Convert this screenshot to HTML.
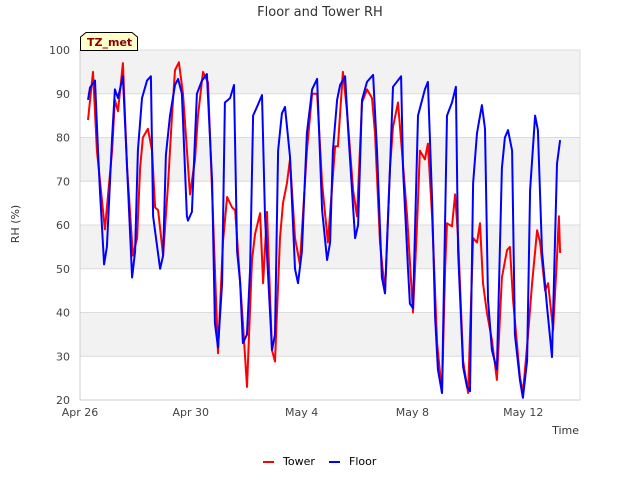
<!DOCTYPE html>
<html><head><meta charset="utf-8"><style>
body{margin:0;background:#fff;}
svg{display:block;font-family:"DejaVu Sans","Liberation Sans",sans-serif;}
</style></head><body>
<svg id="chart" width="640" height="480">
<g id="bands"></g>
<g id="grid"></g>
<g id="yticks"></g>
<g id="xticks"></g>
<g id="series"></g>
<text x="320" y="16" text-anchor="middle" font-size="13" fill="#333">Floor and Tower RH</text>
<text transform="translate(19,224) rotate(-90)" text-anchor="middle" font-size="11" fill="#333">RH (%)</text>
<text x="579" y="434" text-anchor="end" font-size="11" fill="#333">Time</text>
<g>
<path d="M80.5,50.5 L80.5,37 L86,32.5 L132,32.5 L137.5,37 L137.5,50.5 Z" fill="#ffffcc" stroke="#000" stroke-width="1"/>
<text x="87" y="46" font-size="11" font-weight="bold" fill="#8b0000">TZ_met</text>
</g>
<g>
<g><line x1="263" y1="462" x2="274" y2="462" stroke="#f00" stroke-width="2"/><text x="283" y="465" font-size="11" fill="#000">Tower</text></g>
<g><line x1="329" y1="462" x2="340" y2="462" stroke="#00f" stroke-width="2"/><text x="349" y="465" font-size="11" fill="#000">Floor</text></g>
</g>
</svg>
<script>
// days since Apr 26 00:00
const floorDays=[0.29,0.36,0.54,0.65,0.72,0.87,0.97,1.16,1.26,1.37,1.55,1.70,1.88,1.99,2.09,2.24,2.42,2.56,2.64,2.89,3.00,3.10,3.25,3.43,3.54,3.68,3.86,3.90,4.04,4.22,4.40,4.58,4.77,4.87,4.98,5.13,5.23,5.42,5.56,5.67,5.78,5.88,6.03,6.14,6.25,6.39,6.57,6.68,6.93,7.04,7.15,7.29,7.40,7.58,7.76,7.87,8.01,8.19,8.38,8.56,8.74,8.92,9.03,9.13,9.28,9.39,9.57,9.68,9.86,9.93,10.04,10.18,10.36,10.58,10.72,10.90,11.01,11.19,11.30,11.59,11.66,11.84,11.91,12.02,12.20,12.45,12.56,12.71,12.82,12.92,13.07,13.25,13.43,13.57,13.65,13.83,13.97,14.08,14.19,14.33,14.51,14.62,14.73,14.87,15.05,15.23,15.34,15.45,15.60,15.70,15.88,15.99,16.14,16.25,16.43,16.53,16.68,16.86,17.04,17.22,17.33];
const floorRH=[88.6,91.4,93,77,68,51,55,80,91,89,94,73,48,54,77,89,93,94,62,50,53,76,85,92,93.4,90,62,61,63,90,93,94.5,70,37.6,32,46.7,88,89,92,54,47,33,35,50,85,87,89.7,62,31.4,35,77,85.5,87,75.6,50,46.7,54,81,91,93.4,63.4,52,56,77,88.6,92,94,82,64,57,60,88.6,92.7,94.3,77,48,44.4,73,91.6,94,73,50,42,41,85,91,92.7,65.7,39,27,21.6,85,88,91.6,54,27.6,23,22,69.5,81,87.4,82,43,31.4,27,73,80,81.7,77,35,24.6,20.5,29,68,85,81.7,54,41.4,29.8,74,79.4];
const towerDays=[0.29,0.47,0.61,0.90,1.16,1.26,1.37,1.55,1.70,1.91,2.06,2.17,2.27,2.45,2.60,2.71,2.82,3.00,3.18,3.32,3.43,3.57,3.72,3.97,4.15,4.26,4.44,4.62,4.80,4.98,5.16,5.31,5.49,5.60,5.70,5.88,6.03,6.21,6.32,6.50,6.61,6.75,6.93,7.04,7.22,7.33,7.47,7.58,7.76,7.94,8.19,8.38,8.56,8.74,8.95,9.21,9.31,9.49,9.64,9.86,10.0,10.18,10.36,10.54,10.65,10.83,11.01,11.19,11.30,11.48,11.62,11.81,12.02,12.17,12.27,12.45,12.56,12.71,12.89,13.07,13.18,13.25,13.43,13.54,13.65,13.83,14.01,14.19,14.33,14.44,14.55,14.69,14.87,15.05,15.23,15.42,15.52,15.63,15.88,15.99,16.17,16.32,16.50,16.61,16.79,16.90,17.08,17.22,17.29,17.33];
const towerRH=[84,95,77,59,77,88.6,86,97,73,53,57,73,80,82,77,64,63.4,53,69.5,85,95.4,97.2,90,67,75,85,95,92.6,62,30.7,56,66.4,64,63.4,54.3,37.6,23,52,58,62.7,46.7,63,31.4,28.8,57,65,69.5,75,57,51,77,90,90,69.5,56,78,78,95,86,68,62,88,91,89,81,56,44.4,73,82.4,88,77,62,40,60.4,77,75,78.6,62,33,21.6,50,60.4,59.7,67,57,29,21.6,57,56,60.4,46.7,40,33.7,24.6,48,54.3,55,43,25.3,21.6,34.4,46.7,58.8,56,45,46.7,36,52.7,62,53.6];
const yTicks=[20,30,40,50,60,70,80,90,100];
const xTickDays=[0,4,8,12];
const xTickLabels=["Apr 26","Apr 30","May 4","May 8"+"","May 12"].filter((s,i)=>i!==4||true);
const xLabels=["Apr 26","Apr 30","May 4","May 8","May 12"];
const xLabelDays=[0,4,8,12,16];

const L=80,R=580,T=50,B=400,D0=0,D1=18.05,V0=20,V1=100;
const NS="http://www.w3.org/2000/svg";
const xS=d=>L+(d-D0)/(D1-D0)*(R-L);
const yS=v=>B-(v-V0)/(V1-V0)*(B-T);
function mk(tag,attrs,parent){const e=document.createElementNS(NS,tag);for(const k in attrs)e.setAttribute(k,attrs[k]);parent.appendChild(e);return e;}
const bands=document.getElementById('bands'),grid=document.getElementById('grid'),yg=document.getElementById('yticks'),xg=document.getElementById('xticks'),sg=document.getElementById('series');
mk('rect',{x:L,y:T,width:R-L,height:B-T,fill:'#fff',stroke:'#ddd'},bands);
for(let i=0;i<yTicks.length-1;i++){
  if((yTicks.length-2-i)%2===0){
    const r=mk('rect',{x:L,y:yS(yTicks[i+1]),width:R-L,height:yS(yTicks[i])-yS(yTicks[i+1]),fill:'#f2f2f2'},bands);
    
    
  }
}
yTicks.forEach(v=>{
  const g=mk('line',{x1:L,x2:R,y1:yS(v),y2:yS(v),stroke:'#dcdcdc','stroke-width':1},grid);
  
  
  const t=mk('text',{x:L-10,y:yS(v)+4,'text-anchor':'end','font-size':11,fill:'#444'},yg);
  t.textContent=v;
  
  
});
mk('line',{x1:L,x2:L,y1:T,y2:B,stroke:'#ccc'},grid);
mk('line',{x1:L,x2:R,y1:B,y2:B,stroke:'#ccc'},grid);
mk('line',{x1:R,x2:R,y1:T,y2:B,stroke:'#ddd'},grid);
xLabels.forEach((s,i)=>{
  const t=mk('text',{x:xS(xLabelDays[i]),y:416,'text-anchor':'middle','font-size':11,fill:'#444'},xg);
  t.textContent=s;
  
  
});
function line(days,vals,color,name){
  const d=days.map((x,i)=>(i?'L':'M')+xS(x).toFixed(1)+','+yS(vals[i]).toFixed(1)).join(' ');
  const p=mk('path',{d:d,fill:'none',stroke:color,'stroke-width':2,'stroke-linejoin':'round'},sg);
  
  
}
line(towerDays,towerRH,'#ff0000','tower-line');
line(floorDays,floorRH,'#0000ff','floor-line');
</script>
</body></html>
